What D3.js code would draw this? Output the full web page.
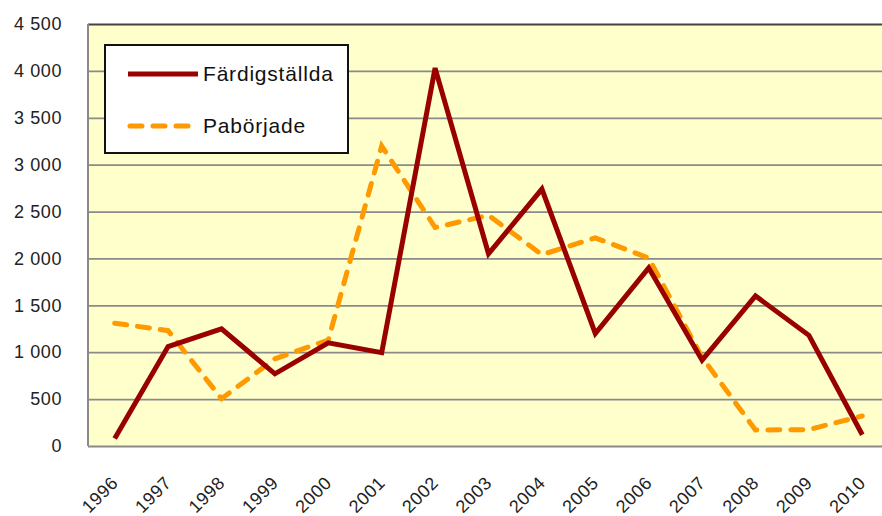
<!DOCTYPE html>
<html>
<head>
<meta charset="utf-8">
<script src="https://cdn.jsdelivr.net/npm/d3@7"></script>
<style>
  body { margin: 0; background: #fff; }
  svg { display: block; font-family: "Liberation Sans", Arial, sans-serif; }
</style>
</head>
<body>
<svg width="882" height="516"></svg>
<script>
const years = ["1996", "1997", "1998", "1999", "2000", "2001", "2002", "2003",
    "2004", "2005", "2006", "2007", "2008", "2009", "2010"];
const fardigstallda = [80, 1060, 1250, 770, 1100, 995, 4030, 2050, 2740, 1200,
    1900, 915, 1600, 1180, 120];
const paborjade = [1310, 1230, 505, 930, 1130, 3200, 2330, 2460, 2040, 2220,
    2005, 945, 170, 175, 320];
const yTicks = [0, 500, 1000, 1500, 2000, 2500, 3000, 3500, 4000, 4500];
const seriesNames = ["Färdigställda", "Pabörjade"];

let svg = d3.select("svg");
const plotLeft = 88, plotTop = 24, plotBottom = 446;
// the plot runs past the right edge of the picture
const plotRight = plotLeft + years.length * 53.4;

const x = d3.scalePoint().domain(years).range([plotLeft, plotRight]).padding(0.5);
const y = d3.scaleLinear().domain([0, 4500]).range([plotBottom, plotTop]);
const fmt = d3.formatLocale({decimal: ",", thousands: " ", grouping: [3], currency: ["", " kr"]}).format(",d");

svg.append("rect")
    .attr("x", plotLeft).attr("y", plotTop)
    .attr("width", plotRight - plotLeft).attr("height", plotBottom - plotTop)
    .attr("fill", "#ffffcc");

// gridlines + y labels
let yAxis = svg.append("g")
    .attr("transform", `translate(${plotLeft},0)`)
    .call(d3.axisLeft(y).tickValues(yTicks).tickFormat(fmt)
        .tickSize(-(plotRight - plotLeft)).tickPadding(26));
yAxis.select(".domain").remove();
yAxis.selectAll(".tick line")
    .attr("stroke", d => d === 4500 ? "#444" : "#8a8a8a")
    .attr("stroke-width", d => d === 4500 ? 2.2 : 1.8);
yAxis.selectAll(".tick text")
    .attr("font-size", 18)
    .attr("letter-spacing", 0.6)
    .attr("fill", "#222")
    .attr("font-family", "Liberation Sans, Arial, sans-serif");

svg.append("line")
    .attr("x1", plotLeft).attr("x2", plotLeft)
    .attr("y1", plotTop).attr("y2", plotBottom)
    .attr("stroke", "#8a8a8a").attr("stroke-width", 2);

// x labels, rotated
let xAxis = svg.append("g")
    .attr("transform", `translate(0,${plotBottom})`)
    .call(d3.axisBottom(x).tickSize(0).tickPadding(0));
xAxis.select(".domain").remove();
xAxis.selectAll(".tick text")
    .attr("font-size", 18)
    .attr("letter-spacing", 0.6)
    .attr("fill", "#222")
    .attr("font-family", "Liberation Sans, Arial, sans-serif")
    .attr("text-anchor", "end")
    .attr("dy", null)
    .attr("y", 0)
    .attr("transform", "translate(4,38) rotate(-45)");

const line = d3.line()
    .x((d, i) => x(years[i]))
    .y(d => y(d));

svg.append("path")
    .datum(paborjade)
    .attr("fill", "none")
    .attr("stroke", "#ff9900")
    .attr("stroke-width", 5)
    .attr("stroke-dasharray", "12,11")
    .attr("stroke-linecap", "round")
    .attr("d", line);

svg.append("path")
    .datum(fardigstallda)
    .attr("fill", "none")
    .attr("stroke", "#990000")
    .attr("stroke-width", 5)
    .attr("stroke-linejoin", "miter")
    .attr("d", line);

// legend
let legend = svg.append("g");
legend.append("rect")
    .attr("x", 105).attr("y", 45)
    .attr("width", 243).attr("height", 108)
    .attr("fill", "#fff")
    .attr("stroke", "#111").attr("stroke-width", 2);

legend.append("line")
    .attr("x1", 128).attr("x2", 198)
    .attr("y1", 74).attr("y2", 74)
    .attr("stroke", "#990000").attr("stroke-width", 5);
legend.append("line")
    .attr("x1", 130).attr("x2", 192)
    .attr("y1", 126).attr("y2", 126)
    .attr("stroke", "#ff9900").attr("stroke-width", 5)
    .attr("stroke-dasharray", "12,11")
    .attr("stroke-linecap", "round");

legend.selectAll("text")
    .data(seriesNames)
    .join("text")
    .attr("x", 203)
    .attr("y", (d, i) => 81 + i * 52)
    .attr("font-size", 21)
    .attr("letter-spacing", 0.8)
    .attr("fill", "#111")
    .text(d => d);
</script>
</body>
</html>
